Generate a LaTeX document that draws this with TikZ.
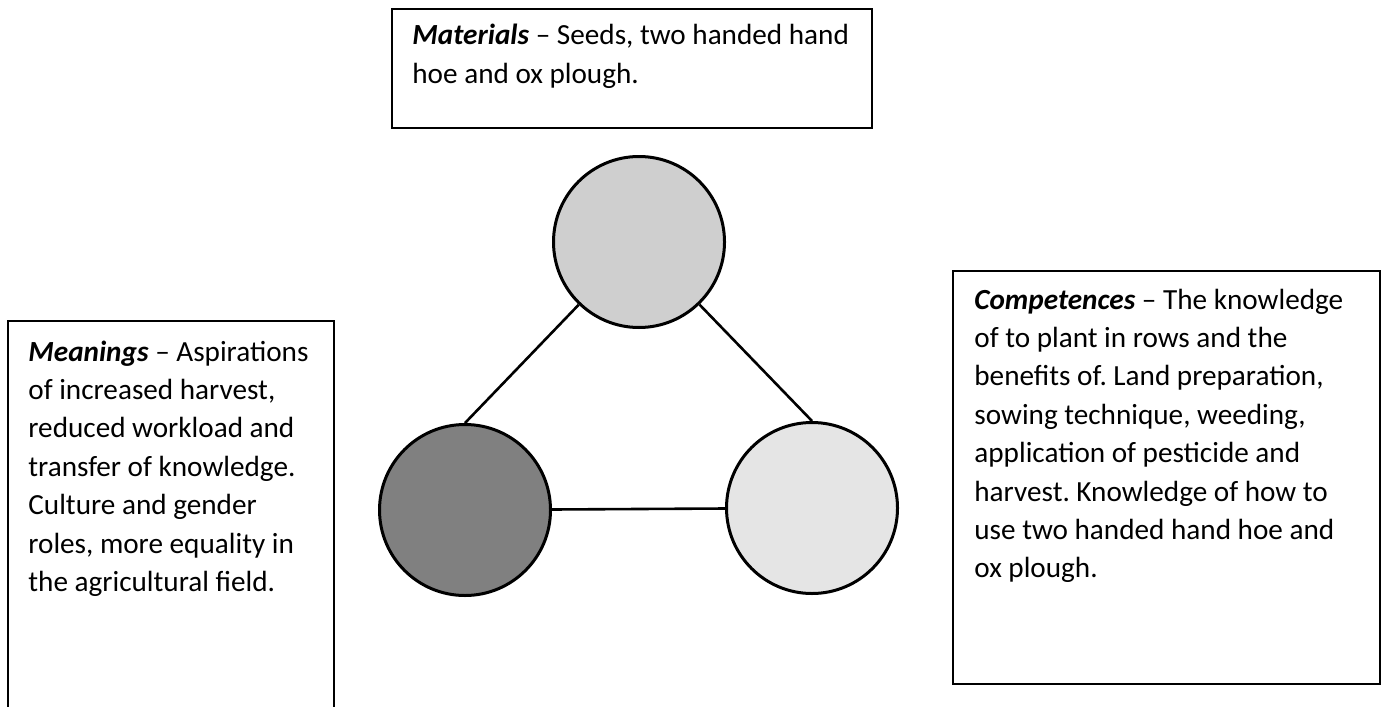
\documentclass[tikz,border=0pt]{standalone}
\usepackage{fontspec}
\setmainfont{Carlito}
\frenchspacing
\begin{document}
\begin{tikzpicture}[x=0.5pt,y=-0.5pt,
  box/.style={draw=black,line width=1pt,fill=white,inner sep=0pt,anchor=north west},
  txt/.style={anchor=base west,inner sep=0pt,text width=300pt,align=flush left,
    font=\fontsize{14.6pt}{19.2pt}\selectfont\frenchspacing},
  ball/.style={circle,draw=black,line width=1.5pt,minimum size=85.5pt,inner sep=0pt},
  link/.style={draw=black,line width=1.3pt}]
\useasboundingbox[fill=white] (0,0) rectangle (1384,706);
% boxes
\node[box,minimum width=240pt,minimum height=59.5pt] (matbox) at (391,8) {};
\node[box,minimum width=163pt,minimum height=200pt] (meabox) at (7,320) {};
\node[box,minimum width=213.5pt,minimum height=206.5pt] (combox) at (952,270) {};
% texts
\node[txt] (mattxt) at (412,45) {\textbf{\textit{Materials}} -- Seeds, two handed hand\\hoe and ox plough.};
\node[txt] (meatxt) at (28,361) {\textbf{\textit{Meanings}} -- Aspirations\\of increased harvest,\\reduced workload and\\transfer of knowledge.\\Culture and gender\\roles, more equality in\\the agricultural field.};
\node[txt] (comtxt) at (974,309) {\textbf{\textit{Competences}} -- The knowledge\\of to plant in rows and the\\benefits of. Land preparation,\\sowing technique, weeding,\\application of pesticide and\\harvest. Knowledge of how to\\use two handed hand hoe and\\ox plough.};
% circles
\node[ball,fill=black!19] (top) at (639,242) {};
\node[ball,fill=black!50] (left) at (465,510) {};
\node[ball,fill=black!10] (right) at (812,508) {};
% links
\draw[link] (top) -- (left.north);
\draw[link] (top) -- (right.north);
\draw[link] (left) -- (right);
\end{tikzpicture}
\end{document}
